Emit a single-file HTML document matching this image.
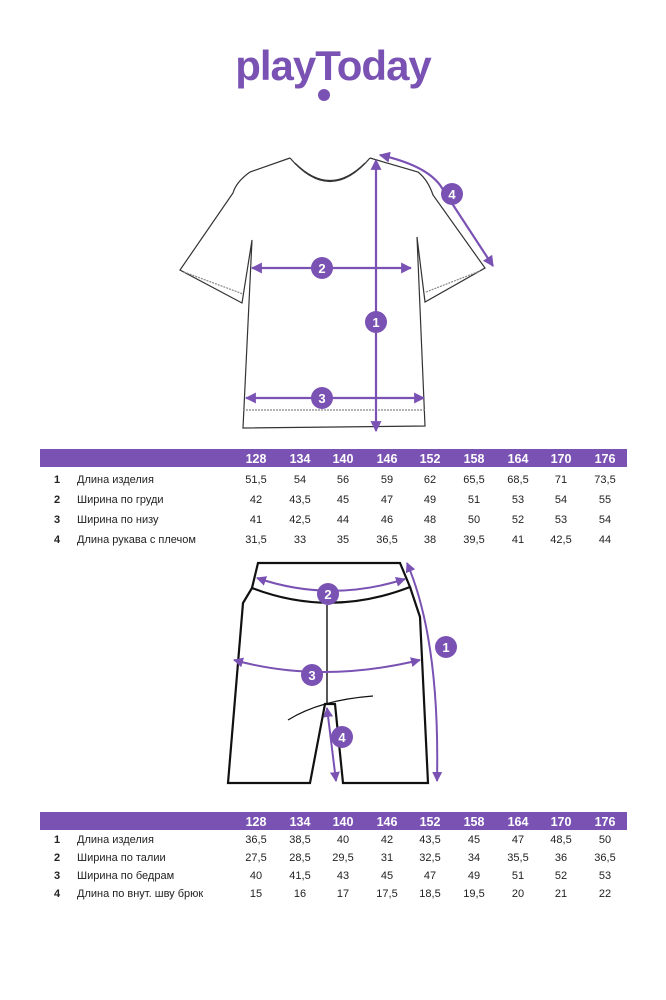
<!DOCTYPE html>
<html><head><meta charset="utf-8"><style>
html,body{margin:0;padding:0;background:#fff;}
svg{display:block;font-family:"Liberation Sans",sans-serif;}
</style></head><body>
<svg width="666" height="1000" viewBox="0 0 666 1000" xmlns="http://www.w3.org/2000/svg">
<defs>
<marker id="a" viewBox="0 0 10 10" refX="9" refY="5" markerWidth="5" markerHeight="5" orient="auto-start-reverse"><path d="M0,0 L10,5 L0,10 z" fill="#7A52B3"/></marker>
</defs>
<rect width="666" height="1000" fill="#fff"/>
<!-- logo -->
<text x="333" y="80" text-anchor="middle" font-size="42" font-weight="bold" fill="#7A52B3" letter-spacing="-1">playToday</text>
<circle cx="324" cy="95" r="6" fill="#7A52B3"/>

<!-- T-shirt -->
<g fill="none" stroke="#333" stroke-width="1.2">
<path d="M290,158 L250,172 Q236,182 233,193 L180,270 L242,303 L252,240 L243,428 L425,426 L417,237 L425,302 L485,268 L433,195 Q428,180 418,172 L370,158"/>
<path d="M290,158 Q330,205 370,158"/>
<path d="M295,163 Q330,198 365,163"/>
<path d="M243,410 L425,410" stroke-dasharray="2,1" stroke="#888"/>
<path d="M184,272 L243,294 M426,292 L480,271" stroke-dasharray="2,1" stroke="#888"/>
</g>
<g stroke="#7A52B3" stroke-width="2.2" fill="none">
<line x1="376" y1="160" x2="376" y2="431" marker-start="url(#a)" marker-end="url(#a)"/>
<line x1="252" y1="268" x2="411" y2="268" marker-start="url(#a)" marker-end="url(#a)"/>
<line x1="246" y1="398" x2="424" y2="398" marker-start="url(#a)" marker-end="url(#a)"/>
<path d="M380,155 Q425,165 440,185 L493,266" marker-start="url(#a)" marker-end="url(#a)"/>
</g>
<g fill="#7A52B3"><circle cx="376" cy="322" r="11"/><circle cx="322" cy="268" r="11"/><circle cx="322" cy="398" r="11"/><circle cx="452" cy="194" r="11"/></g>
<g fill="#fff" font-size="13" font-weight="bold" text-anchor="middle">
<text x="376" y="327">1</text><text x="322" y="273">2</text><text x="322" y="403">3</text><text x="452" y="199">4</text></g>

<!-- Table 1 -->
<rect x="40" y="449" width="587" height="18" fill="#7A52B3"/>
<g font-size="12.5" font-weight="bold" fill="#fff" text-anchor="middle">
<text x="256" y="463">128</text><text x="300" y="463">134</text><text x="343" y="463">140</text><text x="387" y="463">146</text><text x="430" y="463">152</text><text x="474" y="463">158</text><text x="518" y="463">164</text><text x="561" y="463">170</text><text x="605" y="463">176</text></g>
<g font-size="11" fill="#222">
<g font-weight="bold" text-anchor="middle"><text x="57" y="483">1</text><text x="57" y="503">2</text><text x="57" y="523">3</text><text x="57" y="543">4</text></g>
<text x="77" y="483">Длина изделия</text><text x="77" y="503">Ширина по груди</text><text x="77" y="523">Ширина по низу</text><text x="77" y="543">Длина рукава с плечом</text>
<g text-anchor="middle">
<text y="483"><tspan x="256">51,5</tspan><tspan x="300">54</tspan><tspan x="343">56</tspan><tspan x="387">59</tspan><tspan x="430">62</tspan><tspan x="474">65,5</tspan><tspan x="518">68,5</tspan><tspan x="561">71</tspan><tspan x="605">73,5</tspan></text>
<text y="503"><tspan x="256">42</tspan><tspan x="300">43,5</tspan><tspan x="343">45</tspan><tspan x="387">47</tspan><tspan x="430">49</tspan><tspan x="474">51</tspan><tspan x="518">53</tspan><tspan x="561">54</tspan><tspan x="605">55</tspan></text>
<text y="523"><tspan x="256">41</tspan><tspan x="300">42,5</tspan><tspan x="343">44</tspan><tspan x="387">46</tspan><tspan x="430">48</tspan><tspan x="474">50</tspan><tspan x="518">52</tspan><tspan x="561">53</tspan><tspan x="605">54</tspan></text>
<text y="543"><tspan x="256">31,5</tspan><tspan x="300">33</tspan><tspan x="343">35</tspan><tspan x="387">36,5</tspan><tspan x="430">38</tspan><tspan x="474">39,5</tspan><tspan x="518">41</tspan><tspan x="561">42,5</tspan><tspan x="605">44</tspan></text>
</g></g>

<!-- Shorts -->
<g fill="none" stroke="#111" stroke-width="2.2">
<path d="M258,563 L400,563 L410,587 Q330,618 252,588 Z"/>
<path d="M252,588 L243,603 L228,783 L310,783 L325,704 L335,704 L343,783 L428,783 L420,617 L410,587"/>
<path d="M327,605 L327,704" stroke-width="1.4"/>
<path d="M288,720 Q320,700 373,696" stroke-width="1.2"/>
</g>
<g stroke="#7A52B3" stroke-width="2" fill="none">
<path d="M407,563 Q440,640 437,781" marker-start="url(#a)" marker-end="url(#a)"/>
<path d="M257,578 Q330,603 405,579" marker-start="url(#a)" marker-end="url(#a)"/>
<path d="M234,660 Q320,684 420,660" marker-start="url(#a)" marker-end="url(#a)"/>
<path d="M327,708 L336,781" marker-start="url(#a)" marker-end="url(#a)"/>
</g>
<g fill="#7A52B3"><circle cx="446" cy="647" r="11"/><circle cx="328" cy="594" r="11"/><circle cx="312" cy="675" r="11"/><circle cx="342" cy="737" r="11"/></g>
<g fill="#fff" font-size="13" font-weight="bold" text-anchor="middle">
<text x="446" y="652">1</text><text x="328" y="599">2</text><text x="312" y="680">3</text><text x="342" y="742">4</text></g>

<!-- Table 2 -->
<rect x="40" y="812" width="587" height="18" fill="#7A52B3"/>
<g font-size="12.5" font-weight="bold" fill="#fff" text-anchor="middle">
<text x="256" y="826">128</text><text x="300" y="826">134</text><text x="343" y="826">140</text><text x="387" y="826">146</text><text x="430" y="826">152</text><text x="474" y="826">158</text><text x="518" y="826">164</text><text x="561" y="826">170</text><text x="605" y="826">176</text></g>
<g font-size="11" fill="#222">
<g font-weight="bold" text-anchor="middle"><text x="57" y="843">1</text><text x="57" y="861">2</text><text x="57" y="879">3</text><text x="57" y="897">4</text></g>
<text x="77" y="843">Длина изделия</text><text x="77" y="861">Ширина по талии</text><text x="77" y="879">Ширина по бедрам</text><text x="77" y="897">Длина по внут. шву брюк</text>
<g text-anchor="middle">
<text y="843"><tspan x="256">36,5</tspan><tspan x="300">38,5</tspan><tspan x="343">40</tspan><tspan x="387">42</tspan><tspan x="430">43,5</tspan><tspan x="474">45</tspan><tspan x="518">47</tspan><tspan x="561">48,5</tspan><tspan x="605">50</tspan></text>
<text y="861"><tspan x="256">27,5</tspan><tspan x="300">28,5</tspan><tspan x="343">29,5</tspan><tspan x="387">31</tspan><tspan x="430">32,5</tspan><tspan x="474">34</tspan><tspan x="518">35,5</tspan><tspan x="561">36</tspan><tspan x="605">36,5</tspan></text>
<text y="879"><tspan x="256">40</tspan><tspan x="300">41,5</tspan><tspan x="343">43</tspan><tspan x="387">45</tspan><tspan x="430">47</tspan><tspan x="474">49</tspan><tspan x="518">51</tspan><tspan x="561">52</tspan><tspan x="605">53</tspan></text>
<text y="897"><tspan x="256">15</tspan><tspan x="300">16</tspan><tspan x="343">17</tspan><tspan x="387">17,5</tspan><tspan x="430">18,5</tspan><tspan x="474">19,5</tspan><tspan x="518">20</tspan><tspan x="561">21</tspan><tspan x="605">22</tspan></text>
</g></g>
</svg>
</body></html>
